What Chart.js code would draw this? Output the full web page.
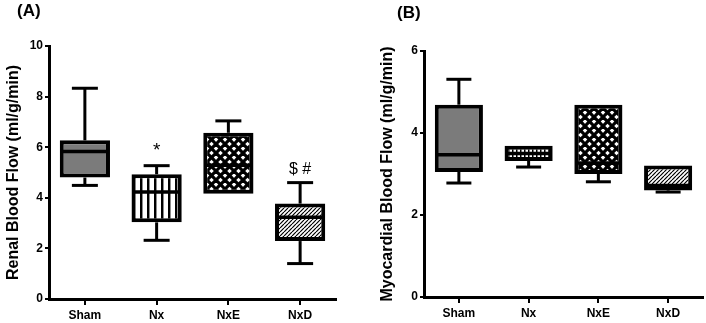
<!DOCTYPE html>
<html>
<head>
<meta charset="utf-8">
<script src="https://cdn.jsdelivr.net/npm/chart.js@4.4.1/dist/chart.umd.min.js"></script>
<style>
  body { margin: 0; background: #fff; width: 706px; height: 323px; position: relative; overflow: hidden; font-family: "Liberation Sans", Arial, sans-serif; }
  .panel { position: absolute; top: 0; height: 323px; }
  #pa { left: 0; width: 360px; }
  #pb { left: 360px; width: 346px; }
  .lbl { position: absolute; font-weight: bold; font-size: 17px; color: #000; }
</style>
</head>
<body>
<div class="panel" id="pa"><canvas id="renal" width="360" height="323"></canvas></div>
<div class="panel" id="pb"><canvas id="myo" width="346" height="323"></canvas></div>
<div class="lbl" style="left:17px;top:1px">(A)</div>
<div class="lbl" style="left:397px;top:3px">(B)</div>
<script>
var groups = ["Sham", "Nx", "NxE", "NxD"];

// (A) renal blood flow, ml/g/min
var renalMin = [4.49, 2.32, 4.14, 1.40];
var renalQ1 = [4.80, 3.03, 4.16, 2.29];
var renalMed = [5.83, 4.23, 5.29, 3.23];
var renalQ3 = [6.27, 4.93, 6.57, 3.77];
var renalMax = [8.33, 5.27, 7.04, 4.60];
var renalNotes = ["", "*", "", "$ #"];

// (B) myocardial blood flow, ml/g/min
var myoMin = [2.78, 3.17, 2.81, 2.56];
var myoQ1 = [3.05, 3.32, 3.00, 2.60];
var myoMed = [3.47, 3.50, 3.27, 2.72];
var myoQ3 = [4.69, 3.69, 4.69, 3.21];
var myoMax = [5.31, 3.71, 4.69, 3.21];
var myoNotes = ["", "", "", ""];

var tickFont = { family: "'Liberation Sans Narrow', 'Arial Narrow', 'Liberation Sans', Arial", size: 12, weight: "bold" };
var titleFont = { family: "'Liberation Sans', Arial", size: 16, weight: "bold" };

function makePattern(kind, p) {
  var c = document.createElement("canvas");
  c.width = p; c.height = p;
  var g = c.getContext("2d");
  g.fillStyle = "#fff";
  g.fillRect(0, 0, p, p);
  g.strokeStyle = "#000";
  g.fillStyle = "#000";
  if (kind === "gray") {
    g.fillStyle = "#7b7b7b";
    g.fillRect(0, 0, p, p);
  } else if (kind === "vstripe") {
    g.fillRect(0, 0, Math.max(1.5, p * 0.35), p);
  } else if (kind === "diamond") {
    g.lineWidth = 3.2;
    for (var d = -p; d <= p; d += p) {
      g.beginPath(); g.moveTo(d, 0); g.lineTo(d + p, p); g.stroke();
      g.beginPath(); g.moveTo(d, p); g.lineTo(d + p, 0); g.stroke();
    }
  } else if (kind === "diag") {
    g.lineWidth = 1.2;
    for (var e = -p; e <= p; e += p) {
      g.beginPath(); g.moveTo(e, p); g.lineTo(e + p, 0); g.stroke();
    }
  }
  return g.createPattern(c, "repeat");
}

// whiskers, medians and significance marks on top of the boxes
var boxExtras = {
  id: "boxExtras",
  afterDatasetsDraw: function (chart, args, o) {
    var ctx = chart.ctx, x = chart.scales.x, y = chart.scales.y;
    var meta = chart.getDatasetMeta(0);
    ctx.save();
    ctx.strokeStyle = "#000";
    ctx.fillStyle = "#000";
    for (var i = 0; i < o.med.length; i++) {
      var cx = x.getPixelForValue(i);
      var half = meta.data[i].width / 2;
      var yMin = y.getPixelForValue(o.min[i]), yQ1 = y.getPixelForValue(o.q1[i]);
      var yQ3 = y.getPixelForValue(o.q3[i]), yMax = y.getPixelForValue(o.max[i]);
      var yMed = y.getPixelForValue(o.med[i]);
      ctx.lineWidth = 3;
      ctx.lineCap = "butt";
      if (yMax < yQ3 - 1) {
        ctx.beginPath(); ctx.moveTo(cx, yQ3); ctx.lineTo(cx, yMax); ctx.stroke();
        ctx.beginPath(); ctx.moveTo(cx - o.cap / 2, yMax); ctx.lineTo(cx + o.cap / 2, yMax); ctx.stroke();
      }
      if (yMin > yQ1 + 1) {
        ctx.beginPath(); ctx.moveTo(cx, yQ1); ctx.lineTo(cx, yMin); ctx.stroke();
        ctx.beginPath(); ctx.moveTo(cx - o.cap / 2, yMin); ctx.lineTo(cx + o.cap / 2, yMin); ctx.stroke();
      }
      ctx.lineWidth = 3.5;
      ctx.beginPath(); ctx.moveTo(cx - half + 2, yMed); ctx.lineTo(cx + half - 2, yMed); ctx.stroke();
      if (o.notes[i]) {
        ctx.font = (o.notes[i] === "*" ? "19px" : "16px") + " 'Liberation Sans', Arial";
        ctx.textAlign = "center";
        ctx.textBaseline = "bottom";
        ctx.fillText(o.notes[i], cx, yMax - 5);
      }
    }
    ctx.restore();
  }
};

function boxChart(id, q1, q3, extras, yMax, yTitle, titlePad, yWidth, xHeight, pad, fills, barPct) {
  var ctx = document.getElementById(id);
  return new Chart(ctx, {
    type: "bar",
    data: {
      labels: groups,
      datasets: [{
        data: q1.map(function (v, i) { return [v, q3[i]]; }),
        backgroundColor: fills,
        borderColor: "#000",
        borderWidth: 4,
        borderSkipped: false,
        barPercentage: barPct,
        categoryPercentage: 1
      }]
    },
    options: {
      responsive: false,
      animation: false,
      layout: { padding: pad },
      plugins: {
        legend: { display: false },
        tooltip: { enabled: false },
        boxExtras: extras
      },
      scales: {
        x: {
          offset: true,
          grid: { drawOnChartArea: false, offset: false, tickLength: 6, lineWidth: 2, color: "#000" },
          border: { width: 3, color: "#000" },
          ticks: { color: "#000", font: tickFont, padding: 3 },
          afterFit: function (s) { s.height = xHeight; }
        },
        y: {
          min: 0,
          max: yMax,
          grid: { drawOnChartArea: false, tickLength: 4, lineWidth: 2, color: "#000" },
          border: { width: 3, color: "#000" },
          ticks: { stepSize: 2, color: "#000", font: { family: tickFont.family, size: 12, weight: "bold" }, padding: 2 },
          title: { display: true, text: yTitle, color: "#000", font: titleFont, padding: { top: titlePad, bottom: 0 } },
          afterFit: function (s) { s.width = yWidth; }
        }
      }
    },
    plugins: [boxExtras]
  });
}

boxChart("renal", renalQ1, renalQ3,
  { min: renalMin, med: renalMed, max: renalMax, q1: renalQ1, q3: renalQ3, notes: renalNotes, cap: 26 },
  10, "Renal Blood Flow (ml/g/min)", 4, 49, 24, { left: 0, top: 46, right: 24, bottom: 0 },
  [makePattern("gray", 4), makePattern("vstripe", 7), makePattern("diamond", 9), makePattern("diag", 4)], 0.7);

boxChart("myo", myoQ1, myoQ3,
  { min: myoMin, med: myoMed, max: myoMax, q1: myoQ1, q3: myoQ3, notes: myoNotes, cap: 25 },
  6, "Myocardial Blood Flow (ml/g/min)", 18, 64, 26, { left: 0, top: 51, right: 3, bottom: 0 },
  [makePattern("gray", 4), makePattern("vstripe", 4), makePattern("diamond", 9), makePattern("diag", 4)], 0.69);
</script>
</body>
</html>
